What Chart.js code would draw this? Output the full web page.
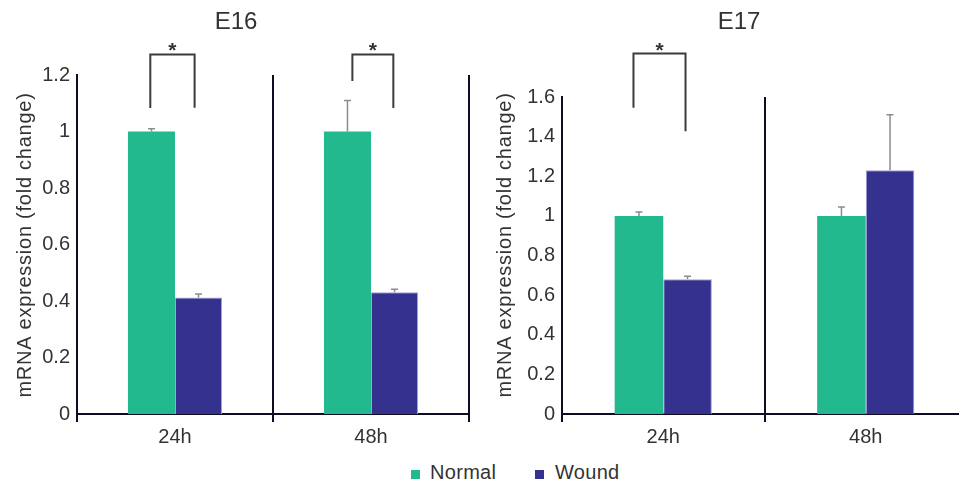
<!DOCTYPE html>
<html>
<head>
<meta charset="utf-8">
<script src="https://cdn.jsdelivr.net/npm/chart.js@4"></script>
<style>
  html, body { margin: 0; padding: 0; background: #fff; }
  body { width: 959px; height: 485px; overflow: hidden; position: relative;
         font-family: 'Liberation Sans', Arial, sans-serif; color: #333; }
  #e16 { position: absolute; left: 0; top: 0; }
  #e17 { position: absolute; left: 480px; top: 0; }
  .sw { position: absolute; top: 470px; width: 9px; height: 9px; }
  .key { position: absolute; top: 460px; font-size: 20px; line-height: 24px; letter-spacing: 0.3px; }
</style>
</head>
<body>
<canvas id="e16" width="472" height="455"></canvas>
<canvas id="e17" width="518" height="455"></canvas>
<span class="sw" style="left:411px; background:#22b98f"></span><span class="key" style="left:430px">Normal</span>
<span class="sw" style="left:535px; background:#35318f"></span><span class="key" style="left:555px">Wound</span>
<script>
const categories = ['24h', '48h']

const e16Normal = [1.0, 1.0]
const e16NormalErr = [0.01, 0.11]
const e16Wound = [0.412, 0.431]
const e16WoundErr = [0.013, 0.011]

const e17Normal = [1.0, 1.0]
const e17NormalErr = [0.02, 0.045]
const e17Wound = [0.68, 1.23]
const e17WoundErr = [0.015, 0.28]

const e16Ticks = ['0', '0.2', '0.4', '0.6', '0.8', '1', '1.2']
const e17Ticks = ['0', '0.2', '0.4', '0.6', '0.8', '1', '1.2', '1.4', '1.6']
const e16Max = 1.2
const e17Max = 1.6
const yStep = 0.2

// significance brackets: arms given as share of the category width, heights in axis units
const e16Brackets = [
  { cat: 0, from: -0.126, to: 0.10, fromEnd: 1.083, toEnd: 1.084, top: 1.273 },
  { cat: 1, from: -0.095, to: 0.114, fromEnd: 1.179, toEnd: 1.083, top: 1.273 },
]
const e17Brackets = [
  { cat: 0, from: -0.147, to: 0.11, fromEnd: 1.546, toEnd: 1.427, top: 1.819 },
]

const FONT = '"Liberation Sans", Arial, sans-serif'
const axisColor = '#0d0c24'
Chart.defaults.font.family = FONT
Chart.defaults.color = '#333'

const errorBars = {
  id: 'errorBars',
  afterDatasetsDraw(chart) {
    const ctx = chart.ctx
    const y = chart.scales.y
    chart.data.datasets.forEach((ds, i) => {
      chart.getDatasetMeta(i).data.forEach((bar, j) => {
        const top = y.getPixelForValue(ds.data[j] + ds.errors[j])
        ctx.save()
        ctx.strokeStyle = '#8c8c8c'
        ctx.lineWidth = 1.5
        ctx.beginPath()
        ctx.moveTo(bar.x, bar.y)
        ctx.lineTo(bar.x, top)
        ctx.moveTo(bar.x - 3.5, top)
        ctx.lineTo(bar.x + 3.5, top)
        ctx.stroke()
        ctx.restore()
      })
    })
  },
}

const brackets = {
  id: 'brackets',
  afterDraw(chart, args, opts) {
    const { ctx, scales: { x, y } } = chart
    const catW = x.width / categories.length
    ctx.save()
    ctx.strokeStyle = '#3b3b3b'
    ctx.lineWidth = 2
    ctx.fillStyle = '#333'
    ctx.font = 'bold 21px ' + FONT
    ctx.textAlign = 'center'
    opts.list.forEach(b => {
      const cx = x.getPixelForValue(b.cat)
      const x0 = cx + b.from * catW
      const x1 = cx + b.to * catW
      const yt = y.getPixelForValue(b.top)
      ctx.beginPath()
      ctx.moveTo(x0, y.getPixelForValue(b.fromEnd))
      ctx.lineTo(x0, yt)
      ctx.lineTo(x1, yt)
      ctx.lineTo(x1, y.getPixelForValue(b.toEnd))
      ctx.stroke()
      ctx.fillText('*', (x0 + x1) / 2, yt + 3)
    })
    ctx.restore()
  },
}

// panel title centred on the canvas, y title at a common height for both panels
const panelText = {
  id: 'panelText',
  afterDraw(chart, args, opts) {
    const ctx = chart.ctx
    ctx.save()
    ctx.fillStyle = '#333'
    ctx.textAlign = 'center'
    ctx.textBaseline = 'middle'
    ctx.font = '24px ' + FONT
    ctx.fillText(opts.title, chart.width / 2, 22)
    ctx.translate(25, 245)
    ctx.rotate(-Math.PI / 2)
    ctx.font = '20px ' + FONT
    ctx.letterSpacing = '0.75px'
    ctx.fillText('mRNA expression (fold change)', 0, 0)
    ctx.restore()
  },
}

function panel(id, title, normal, normalErr, wound, woundErr, yMax, tickLabels, list, padding, yWidth) {
  return new Chart(document.getElementById(id), {
    type: 'bar',
    data: {
      labels: categories,
      datasets: [
        { label: 'Normal', data: normal, errors: normalErr, backgroundColor: '#22b98f', borderWidth: 0 },
        { label: 'Wound', data: wound, errors: woundErr, backgroundColor: '#35318f', borderColor: '#a3a1db', borderWidth: 1 },
      ],
    },
    options: {
      responsive: false,
      animation: false,
      devicePixelRatio: 1,
      layout: { padding: padding },
      datasets: { bar: { categoryPercentage: 0.48, barPercentage: 1 } },
      plugins: {
        legend: { display: false },
        tooltip: { enabled: false },
        panelText: { title: title },
        brackets: { list: list },
      },
      scales: {
        x: {
          grid: { display: true, offset: true, color: axisColor, lineWidth: 2, tickLength: 8, drawOnChartArea: true },
          border: { display: true, color: axisColor, width: 2 },
          ticks: { color: '#333', font: { size: 20 }, padding: 3 },
          afterFit: s => { s.height = 36 },
        },
        y: {
          min: 0,
          max: yMax,
          grid: { display: false, drawTicks: false },
          border: { display: true, color: axisColor, width: 2 },
          ticks: {
            stepSize: yStep, color: '#333', font: { size: 20 }, padding: 7,
            callback: (value, index) => tickLabels[index],
          },
          afterFit: s => { s.width = yWidth },
        },
      },
    },
    plugins: [errorBars, brackets, panelText],
  })
}

panel('e16', 'E16', e16Normal, e16NormalErr, e16Wound, e16WoundErr, e16Max, e16Ticks, e16Brackets,
  { top: 75, left: 8, right: 3, bottom: 5 }, 69)
panel('e17', 'E17', e17Normal, e17NormalErr, e17Wound, e17WoundErr, e17Max, e17Ticks, e17Brackets,
  { top: 97, left: 8, right: 31, bottom: 5 }, 74)
</script>
</body>
</html>
